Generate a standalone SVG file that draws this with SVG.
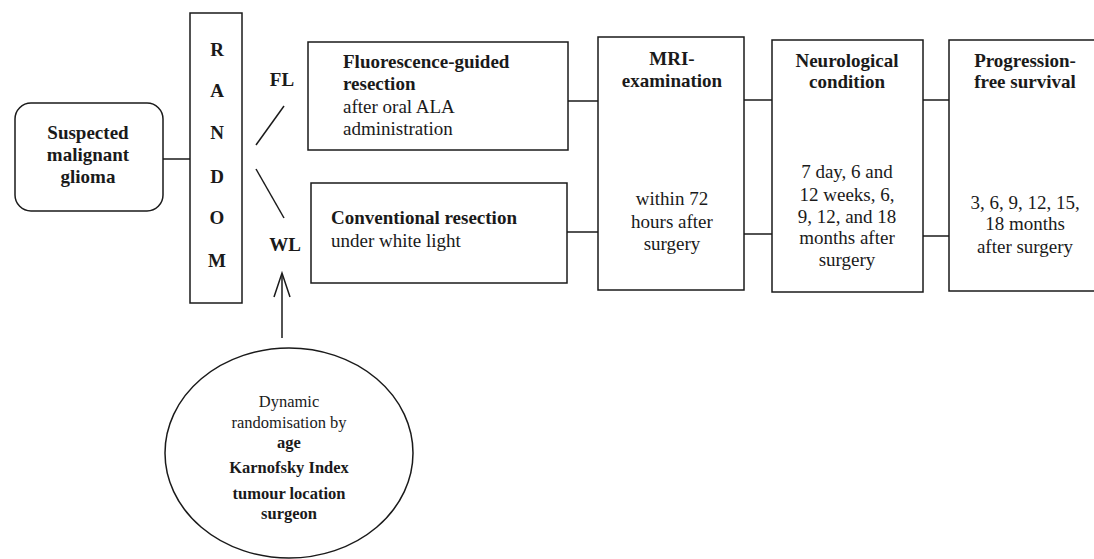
<svg xmlns="http://www.w3.org/2000/svg" width="1094" height="559" viewBox="0 0 1094 559" font-family="'Liberation Serif', 'DejaVu Serif', serif">
<style>
.box{fill:#fff;stroke:#1a1a1a;stroke-width:1.5}
.ln{stroke:#1a1a1a;stroke-width:1.5;fill:none}
text{font-family:'Liberation Serif','DejaVu Serif',serif;fill:#1a1a1a;font-size:19px}
.b{font-weight:bold}
.c{text-anchor:middle}
.s{font-size:16.5px}
</style>
<rect width="1094" height="559" fill="#fff"/>
<g id="suspected">
<rect class="box" x="15" y="103" width="148" height="108" rx="16"/>
<text class="b c" x="88" y="139">Suspected</text>
<text class="b c" x="88" y="161">malignant</text>
<text class="b c" x="88" y="183">glioma</text>
</g>
<g id="random">
<rect class="box" x="190" y="13" width="52" height="290"/>
<text class="b c" x="217" y="56">R</text>
<text class="b c" x="217" y="97">A</text>
<text class="b c" x="217" y="139">N</text>
<text class="b c" x="217" y="183">D</text>
<text class="b c" x="217" y="224">O</text>
<text class="b c" x="217" y="267">M</text>
</g>
<g id="fl-label"><text class="b c" x="282" y="86">FL</text></g>
<g id="wl-label"><text class="b c" x="285" y="251">WL</text></g>
<g id="fl-box">
<rect class="box" x="308" y="42" width="260" height="108"/>
<text class="b" x="343" y="68">Fluorescence-guided</text>
<text class="b" x="343" y="90">resection</text>
<text x="343" y="113">after oral ALA</text>
<text x="343" y="135">administration</text>
</g>
<g id="wl-box">
<rect class="box" x="311" y="183" width="256" height="100"/>
<text class="b" x="331" y="224">Conventional resection</text>
<text x="331" y="247">under white light</text>
</g>
<g id="mri">
<rect class="box" x="598" y="37" width="146" height="253"/>
<text class="b c" x="672" y="65">MRI-</text>
<text class="b c" x="672" y="87">examination</text>
<text class="c" x="672" y="205">within 72</text>
<text class="c" x="672" y="228">hours after</text>
<text class="c" x="672" y="250">surgery</text>
</g>
<g id="neuro">
<rect class="box" x="772" y="40" width="151" height="252"/>
<text class="b c" x="847" y="67">Neurological</text>
<text class="b c" x="847" y="88">condition</text>
<text class="c" x="847" y="178">7 day, 6 and</text>
<text class="c" x="847" y="201">12 weeks, 6,</text>
<text class="c" x="847" y="223">9, 12, and 18</text>
<text class="c" x="847" y="244">months after</text>
<text class="c" x="847" y="266">surgery</text>
</g>
<g id="pfs">
<rect class="box" x="949" y="40" width="160" height="251"/>
<text class="b c" x="1025" y="67">Progression-</text>
<text class="b c" x="1025" y="88">free survival</text>
<text class="c" x="1025" y="209">3, 6, 9, 12, 15,</text>
<text class="c" x="1025" y="230">18 months</text>
<text class="c" x="1025" y="253">after surgery</text>
</g>
<g id="dynamic">
<ellipse class="box" cx="289" cy="453" rx="124" ry="105"/>
<text class="c s" x="289" y="407">Dynamic</text>
<text class="c s" x="289" y="428">randomisation by</text>
<text class="b c s" x="289" y="448">age</text>
<text class="b c s" x="289" y="473">Karnofsky Index</text>
<text class="b c s" x="289" y="499">tumour location</text>
<text class="b c s" x="289" y="519">surgeon</text>
</g>
<g id="connectors">
<line class="ln" x1="163" y1="159" x2="190" y2="159"/>
<line class="ln" x1="284" y1="106" x2="256" y2="145"/>
<line class="ln" x1="256" y1="169" x2="284" y2="218"/>
<line class="ln" x1="568" y1="101" x2="598" y2="101"/>
<line class="ln" x1="567" y1="232" x2="598" y2="232"/>
<line class="ln" x1="744" y1="100" x2="772" y2="100"/>
<line class="ln" x1="744" y1="234" x2="772" y2="234"/>
<line class="ln" x1="923" y1="100" x2="949" y2="100"/>
<line class="ln" x1="923" y1="236" x2="949" y2="236"/>
<line class="ln" x1="282" y1="338" x2="282" y2="274"/>
<polyline class="ln" points="274,297 282,273 290,297"/>
</g>
</svg>
